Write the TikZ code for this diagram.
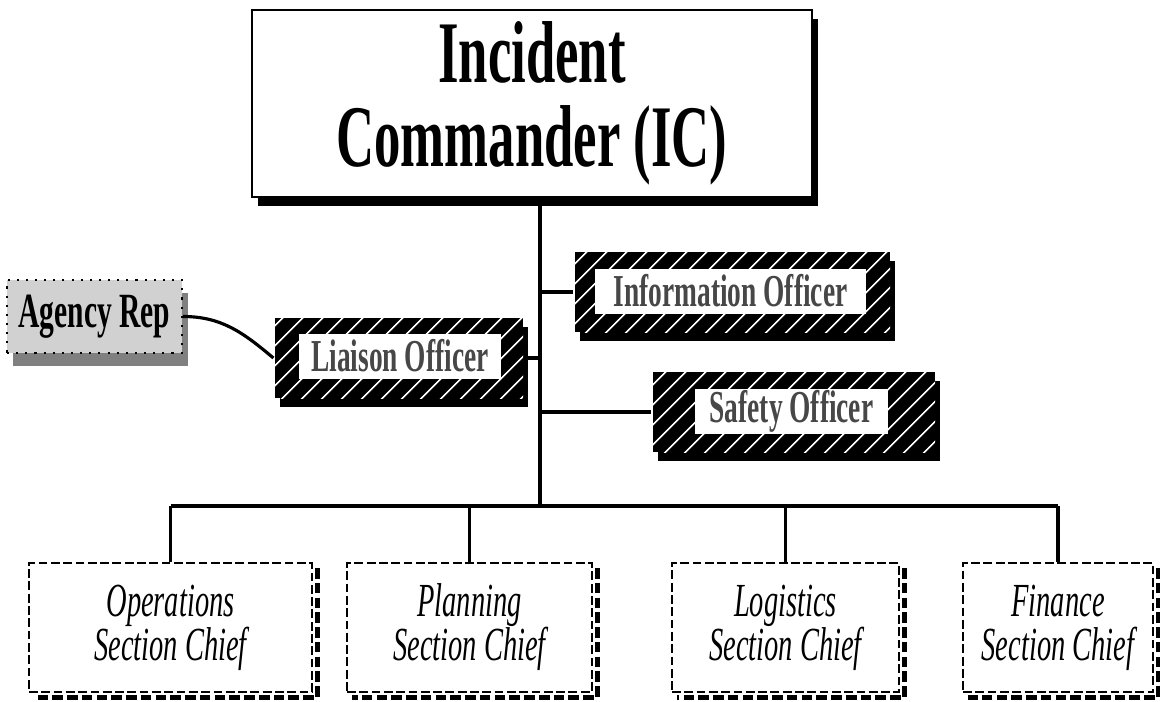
\documentclass[tikz,border=0pt]{standalone}
\usepackage{xcolor}
\usepackage{fontspec}
\setmainfont[FakeStretch=0.6]{Liberation Serif}
\usetikzlibrary{calc, shadows, patterns, patterns.meta}

\begin{document}
\begin{tikzpicture}[line width=0.9pt, every node/.style={inner sep=0pt, align=center},
  icbox/.style={draw, line width=0.6pt, fill=white, drop shadow={shadow xshift=0.06cm, shadow yshift=-0.085cm, opacity=1, fill=black}, font=\bfseries\fontsize{25}{24}\selectfont},
  hatchbox/.style={fill=black, minimum height=0.8cm, drop shadow={shadow xshift=0.05cm, shadow yshift=-0.09cm, opacity=1, fill=black}, postaction={pattern={Lines[angle=45, distance=4pt, line width=0.5pt]}, pattern color=white}},
  officerlabel/.style={fill=white, minimum height=0.45cm, text=black!72, font=\bfseries\fontsize{13}{15}\selectfont},
  agencybox/.style={draw, dotted, line width=0.6pt, fill=black!18, drop shadow={shadow xshift=0.055cm, shadow yshift=-0.13cm, opacity=1, fill=black!50}, font=\bfseries\fontsize{14}{16}\selectfont},
  chiefbox/.style={draw, dash pattern=on 2.5pt off 1pt, line width=0.5pt, fill=white, minimum height=1.29cm, font=\itshape\fontsize{13.5}{12.5}\selectfont},
  chiefshadow/.style={line width=1.6pt, dash pattern=on 3pt off 1.2pt}]
  \useasboundingbox (0,0) rectangle (11.6,-7.01);
  \node[icbox, minimum width=5.60cm, minimum height=1.87cm] (ic) at (5.32,-1.035) {Incident\\Commander (IC)};
  \coordinate (hub) at (5.40,-5.06);
  \node[hatchbox, minimum width=3.15cm] (info) at (7.325,-2.92) {};
  \node[officerlabel, minimum width=2.71cm] (infolabel) at (7.305,-2.91) {Information Officer};
  \node[hatchbox, minimum width=2.48cm] (liaison) at (3.99,-3.58) {};
  \node[officerlabel, minimum width=2.02cm] (liaisonlabel) at (4.00,-3.56) {Liaison Officer};
  \node[hatchbox, minimum width=2.82cm] (safety) at (7.94,-4.12) {};
  \node[officerlabel, minimum width=1.93cm] (safetylabel) at (7.915,-4.11) {Safety Officer};
  \node[agencybox, minimum width=1.75cm, minimum height=0.73cm] (agency) at (0.945,-3.165) {Agency Rep};
  \node[chiefbox, minimum width=2.83cm] (ops) at (1.705,-6.275) {Operations\\Section Chief};
  \node[chiefbox, minimum width=2.45cm] (plan) at (4.695,-6.275) {Planning\\Section Chief};
  \node[chiefbox, minimum width=2.27cm] (logi) at (7.855,-6.275) {Logistics\\Section Chief};
  \node[chiefbox, minimum width=1.90cm] (fin) at (10.58,-6.275) {Finance\\Section Chief};
  \foreach \n in {ops,plan,logi,fin}
    \draw[chiefshadow] ($(\n.north east)+(0.045,-0.06)$) -- ($(\n.south east)+(0.045,-0.045)$) -- ($(\n.south west)+(0.06,-0.045)$);
  \draw (ic.south -| hub) -- (hub);
  \draw (info.west -| hub) -- (info.west);
  \draw (liaison.east) -- (liaison.east -| hub);
  \draw (safety.west -| hub) -- (safety.west);
  \draw (ops.north |- hub) -- (fin.north |- hub);
  \foreach \n in {ops,plan,logi,fin}
    \draw (\n.north |- hub) -- (\n.north);
  \draw (agency.east) to[out=0, in=140] (liaison.west);
\end{tikzpicture}
\end{document}
